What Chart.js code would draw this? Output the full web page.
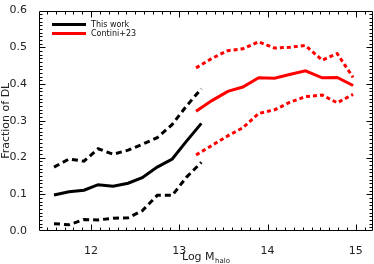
<!DOCTYPE html>
<html>
<head>
<meta charset="utf-8">
<script src="https://cdn.jsdelivr.net/npm/chart.js@4"></script>
<style>
  html, body { margin: 0; padding: 0; background: #fff; }
  canvas { display: block; }
</style>
</head>
<body>
<canvas id="myChart" width="374" height="264"></canvas>
<script>
// log halo mass bins
const xThisWork = [11.58, 11.75, 11.92, 12.08, 12.25, 12.42, 12.58, 12.75, 12.92, 13.08, 13.25];
const fracThisWork = [0.098, 0.107, 0.111, 0.126, 0.122, 0.130, 0.145, 0.174, 0.196, 0.244, 0.293];
const fracThisWorkHi = [0.174, 0.196, 0.190, 0.224, 0.209, 0.220, 0.236, 0.254, 0.290, 0.340, 0.387];
const fracThisWorkLo = [0.020, 0.017, 0.031, 0.030, 0.035, 0.036, 0.055, 0.097, 0.097, 0.146, 0.187];

const xContini = [13.19, 13.37, 13.55, 13.72, 13.90, 14.08, 14.25, 14.43, 14.62, 14.79, 14.97];
const fracContini = [0.326, 0.355, 0.380, 0.392, 0.417, 0.416, 0.426, 0.436, 0.417, 0.418, 0.396];
const fracContiniHi = [0.444, 0.470, 0.491, 0.496, 0.515, 0.498, 0.500, 0.505, 0.465, 0.483, 0.418];
const fracContiniLo = [0.207, 0.233, 0.259, 0.281, 0.320, 0.330, 0.350, 0.366, 0.370, 0.349, 0.372];

const xTicks = [12, 13, 14, 15];
const yTicks = [0, 0.1, 0.2, 0.3, 0.4, 0.5, 0.6];

const FONT = "'DejaVu Sans', sans-serif";

function pts(xs, ys) {
  return xs.map((x, i) => ({ x: x, y: ys[i] }));
}

function line(label, xs, ys, color, dash) {
  return {
    label: label,
    data: pts(xs, ys),
    borderColor: color,
    borderWidth: 3,
    borderDash: dash,
    borderCapStyle: 'butt',
    pointRadius: 0,
    tension: 0,
    fill: false
  };
}

// IDL style box: inward major + minor ticks on all four sides
const boxTicks = {
  id: 'boxTicks',
  afterDatasetsDraw(chart) {
    const { ctx, chartArea: a } = chart;
    const x = chart.scales.x, y = chart.scales.y;
    ctx.save();
    ctx.setLineDash([]);
    ctx.globalAlpha = 1;
    ctx.strokeStyle = 'rgb(0,0,0)';
    ctx.lineWidth = 1;
    ctx.lineCap = 'butt';
    const L = Math.round(a.left) + 0.5, R = Math.round(a.right) - 0.5;
    const T = Math.round(a.top) + 0.5, B = Math.round(a.bottom) - 0.5;
    ctx.beginPath();
    ctx.moveTo(L, T); ctx.lineTo(R, T); ctx.lineTo(R, B); ctx.lineTo(L, B); ctx.closePath();
    for (let i = 115; i <= 151; i++) {
      const px = Math.round(x.getPixelForValue(i / 10)) + 0.5;
      const len = i % 10 === 0 ? 6 : 3;
      ctx.moveTo(px, B); ctx.lineTo(px, B - len);
      ctx.moveTo(px, T); ctx.lineTo(px, T + len);
    }
    for (let i = 1; i < 60; i++) {
      const py = Math.round(y.getPixelForValue(i / 100)) + 0.5;
      const len = i % 10 === 0 ? 6 : 3;
      ctx.moveTo(L, py); ctx.lineTo(L + len, py);
      ctx.moveTo(R, py); ctx.lineTo(R - len, py);
    }
    ctx.stroke();
    ctx.restore();
  },
  afterDraw(chart) {
    const { ctx, chartArea: a } = chart;
    ctx.save();
    // x title with subscript
    ctx.fillStyle = '#222';
    ctx.textBaseline = 'alphabetic';
    ctx.font = '11px ' + FONT;
    const main = 'Log M';
    const wMain = ctx.measureText(main).width;
    ctx.font = '7px ' + FONT;
    const wSub = ctx.measureText('halo').width;
    const cx = (a.left + a.right) / 2;
    const x0 = cx - (wMain + wSub) / 2;
    ctx.font = '11px ' + FONT;
    ctx.textAlign = 'left';
    ctx.fillText(main, x0, 260);
    ctx.font = '7px ' + FONT;
    ctx.fillText('halo', x0 + wMain + 0.5, 263);

    // legend inside the box
    ctx.font = '8px ' + FONT;
    ctx.textBaseline = 'middle';
    let ly = a.top + 14;
    chart.data.datasets.forEach(ds => {
      if (!ds.label) return;
      ctx.strokeStyle = ds.borderColor;
      ctx.lineWidth = 3;
      ctx.setLineDash([]);
      ctx.beginPath();
      ctx.moveTo(a.left + 13, ly);
      ctx.lineTo(a.left + 47, ly);
      ctx.stroke();
      ctx.fillStyle = '#111';
      ctx.fillText(ds.label, a.left + 52, ly);
      ly += 9;
    });
    ctx.restore();
  }
};

const ctx = document.getElementById('myChart');
const myChart = new Chart(ctx, {
  type: 'line',
  plugins: [boxTicks],
  data: {
    datasets: [
      line('This work', xThisWork, fracThisWork, '#000', []),
      line('', xThisWork, fracThisWorkHi, '#000', [6, 4]),
      line('', xThisWork, fracThisWorkLo, '#000', [6, 4]),
      line('Contini+23', xContini, fracContini, '#ff0000', []),
      line('', xContini, fracContiniHi, '#ff0000', [4, 3]),
      line('', xContini, fracContiniLo, '#ff0000', [4, 3])
    ]
  },
  options: {
    responsive: false,
    animation: false,
    devicePixelRatio: 1,
    layout: { padding: { top: 1, right: 1.5, left: 0, bottom: 0 } },
    plugins: {
      legend: { display: false },
      tooltip: { enabled: false }
    },
    scales: {
      x: {
        type: 'linear',
        min: 11.41,
        max: 15.19,
        grid: { display: false },
        border: { display: false },
        afterBuildTicks: s => { s.ticks = xTicks.map(v => ({ value: v })); },
        afterFit: s => { s.height = 33; },
        ticks: {
          padding: 6,
          maxRotation: 0,
          color: '#222',
          font: { family: FONT, size: 11 },
          callback: v => String(v)
        }
      },
      y: {
        min: 0,
        max: 0.6,
        grid: { display: false },
        border: { display: false },
        afterBuildTicks: s => { s.ticks = yTicks.map(v => ({ value: v })); },
        afterFit: s => { s.width = 39; },
        ticks: {
          padding: 4,
          color: '#222',
          font: { family: FONT, size: 11 },
          callback: v => v.toFixed(1)
        },
        title: {
          display: true,
          text: 'Fraction of DL',
          color: '#222',
          padding: 0,
          font: { family: FONT, size: 11 }
        }
      }
    }
  }
});
</script>
</body>
</html>
